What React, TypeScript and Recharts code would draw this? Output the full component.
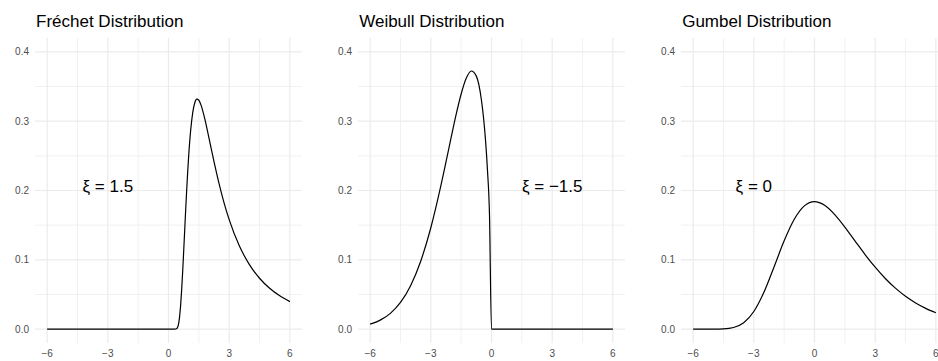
import React from "react";
import { LineChart, Line, XAxis, YAxis, ReferenceLine, ReferenceDot } from "recharts";

// ---- data ----
const frechetX = [-6, 0, 0.3, 0.4, 0.45, 0.5, 0.55, 0.6, 0.65, 0.7, 0.75, 0.8, 0.85, 0.9, 0.95, 1.0, 1.1, 1.2, 1.3, 1.4, 1.5, 1.6, 1.8, 2.0, 2.25, 2.5, 2.75, 3, 3.5, 4, 4.5, 5, 5.5, 6];
const frechetY = [0, 0, 0, 0.0006, 0.0027, 0.0081, 0.0184, 0.0346, 0.0564, 0.0827, 0.1119, 0.1423, 0.1725, 0.2011, 0.2274, 0.2508, 0.2881, 0.3128, 0.3266, 0.3317, 0.3302, 0.3239, 0.3026, 0.2759, 0.2417, 0.2099, 0.1819, 0.1579, 0.1202, 0.0931, 0.0734, 0.0589, 0.048, 0.0397];

const weibullX = [-6, -5.5, -5, -4.5, -4, -3.5, -3, -2.5, -2.25, -2, -1.75, -1.5, -1.25, -1, -0.75, -0.5, -0.4, -0.3, -0.2, -0.1, 0, 6];
const weibullY = [0.0072, 0.013, 0.0228, 0.0385, 0.0627, 0.098, 0.1463, 0.2073, 0.2412, 0.2759, 0.3095, 0.3392, 0.3618, 0.3724, 0.365, 0.3309, 0.3067, 0.2741, 0.2298, 0.1658, 0, 0];

const gumbelX = [-6, -5.5, -5, -4.5, -4, -3.5, -3, -2.5, -2, -1.5, -1, -0.5, 0, 0.5, 1, 1.5, 2, 2.5, 3, 3.5, 4, 4.5, 5, 5.5, 6];
const gumbelY = [0, 0, 0.00003, 0.00036, 0.0023, 0.0091, 0.0254, 0.0532, 0.0897, 0.1274, 0.1585, 0.1778, 0.1839, 0.1787, 0.1653, 0.1473, 0.1273, 0.1076, 0.0893, 0.073, 0.0591, 0.0474, 0.0378, 0.03, 0.0237];

const panelTitles = ["Fréchet Distribution", "Weibull Distribution", "Gumbel Distribution"];
const annotationLabels = ["ξ = 1.5", "ξ = −1.5", "ξ = 0"];
const annotationX = [-3, 3, -3];
const annotationY = [0.2, 0.2, 0.2];

const xTickValues = [-6, -3, 0, 3, 6];
const xTickLabels = ["−6", "−3", "0", "3", "6"];
const xMinorValues = [-4.5, -1.5, 1.5, 4.5];
const yTickValues = [0, 0.1, 0.2, 0.3, 0.4];
const yTickLabels = ["0.0", "0.1", "0.2", "0.3", "0.4"];
const yMinorValues = [0.05, 0.15, 0.25, 0.35];

const seriesX = [frechetX, weibullX, gumbelX];
const seriesY = [frechetY, weibullY, gumbelY];

// ---- layout ----
const FONT = "'Liberation Sans', Arial, Helvetica, sans-serif";
const CHART_W = 323;
const CHART_H = 361;
const Y_AXIS_W = 35;
const panelLefts = [0, 323.2, 646.2];
const GRID = "#EBEBEB";

function Panel({ idx }: { idx: number }) {
  const data = seriesX[idx].map((x, i) => ({ x, y: seriesY[idx][i] }));
  const label = annotationLabels[idx];
  return (
    <LineChart
      width={CHART_W}
      height={CHART_H}
      data={data}
      margin={{ top: 38, right: CHART_W - Y_AXIS_W - 267, bottom: 0, left: 0 }}
    >
      <XAxis
        type="number"
        dataKey="x"
        domain={[-6.6, 6.6]}
        ticks={xTickValues}
        tickFormatter={(v: number) => xTickLabels[xTickValues.indexOf(v)] ?? String(v)}
        axisLine={false}
        tickLine={false}
        tickSize={0}
        tickMargin={7}
        height={18}
        allowDataOverflow
        tick={{ fontSize: 10, fill: "#4D4D4D", fontFamily: FONT }}
        interval={0}
      />
      <YAxis
        type="number"
        domain={[-0.02, 0.42]}
        ticks={yTickValues}
        tickFormatter={(v: number) => yTickLabels[yTickValues.indexOf(v)] ?? String(v)}
        axisLine={false}
        tickLine={false}
        tickSize={0}
        tickMargin={6}
        width={Y_AXIS_W}
        allowDataOverflow
        tick={{ fontSize: 10, fill: "#4D4D4D", fontFamily: FONT }}
        interval={0}
      />
      {yMinorValues.map((v) => (
        <ReferenceLine key={"ym" + v} y={v} stroke={GRID} strokeWidth={0.7} ifOverflow="extendDomain" />
      ))}
      {xMinorValues.map((v) => (
        <ReferenceLine key={"xm" + v} x={v} stroke={GRID} strokeWidth={0.7} />
      ))}
      {yTickValues.map((v) => (
        <ReferenceLine key={"yM" + v} y={v} stroke={GRID} strokeWidth={1.2} />
      ))}
      {xTickValues.map((v) => (
        <ReferenceLine key={"xM" + v} x={v} stroke={GRID} strokeWidth={1.2} />
      ))}
      <Line
        type="monotone"
        dataKey="y"
        stroke="#000000"
        strokeWidth={1.2}
        dot={false}
        activeDot={false}
        isAnimationActive={false}
      />
      <ReferenceDot
        x={annotationX[idx]}
        y={annotationY[idx]}
        r={1}
        shape={(p: any) => (
          <text
            x={p.cx}
            y={p.cy + 1}
            textAnchor="middle"
            fontSize={17}
            fontFamily={FONT}
            fill="#000000"
          >
            {label}
          </text>
        )}
      />
    </LineChart>
  );
}

export default function App() {
  return (
    <div
      style={{
        position: "fixed",
        left: 0,
        top: 0,
        width: 938,
        height: 361,
        overflow: "hidden",
        background: "#FFFFFF",
        fontFamily: FONT,
      }}
    >
      {panelLefts.map((left, idx) => (
        <div key={idx} style={{ position: "absolute", left, top: 0, width: CHART_W, height: CHART_H }}>
          <Panel idx={idx} />
          <div
            style={{
              position: "absolute",
              left: Y_AXIS_W + 1,
              top: 13,
              fontSize: 17,
              lineHeight: "17px",
              color: "#000000",
              whiteSpace: "nowrap",
            }}
          >
            {panelTitles[idx]}
          </div>
        </div>
      ))}
    </div>
  );
}
